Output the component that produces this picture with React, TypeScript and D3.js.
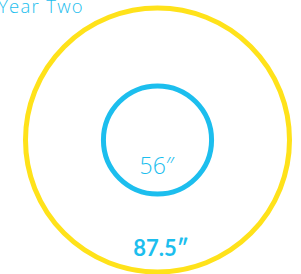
import React from "react";
import * as d3 from "d3";

const title = "Year Two";
const labels = ["87.5″", "56″"];
const values = [87.5, 56];
const colors = ["#FFE21A", "#1CBEEE"];

const W = 301;
const H = 274;

export default function App() {
  const cx = 157.5;
  const cy = 140;
  const r = d3.scalePow().exponent(2).domain([0, 87.5]).range([0, 132]);
  return (
    <svg
      width={W}
      height={H}
      style={{ position: "fixed", left: 0, top: 0, background: "#fff" }}
    >
      <text
        x={84}
        y={13}
        textAnchor="end"
        fill="#1CBEEE"
        fontFamily="Open Sans"
        fontWeight={300}
        fontSize={18.5}
        letterSpacing={1.3}
      >
        {title}
      </text>
      {values.map((v, i) => (
        <circle
          key={i}
          cx={cx}
          cy={cy}
          r={r(v)}
          fill="none"
          stroke={colors[i]}
          strokeWidth={5}
        />
      ))}
      <text
        x={161}
        y={256}
        textAnchor="middle"
        fill="#1CBEEE"
        fontFamily="Lato"
        fontWeight={700}
        fontSize={22}
      >
        {labels[0]}
      </text>
      <text
        x={157}
        y={174}
        textAnchor="middle"
        fill="#1CBEEE"
        fontFamily="Open Sans"
        fontWeight={300}
        fontSize={23}
      >
        {labels[1]}
      </text>
    </svg>
  );
}
